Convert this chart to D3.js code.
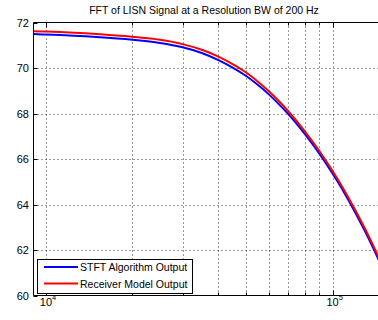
<!DOCTYPE html>
<html>
<head>
<meta charset="utf-8">
<script src="https://cdn.jsdelivr.net/npm/d3@7"></script>
<style>
  body { margin: 0; background: #fff; }
  svg { display: block; font-family: "Liberation Sans", Arial, sans-serif; }
</style>
</head>
<body>
<div id="chart"></div>
<script>
// frequency points (Hz)
const freq = [9060, 1e4, 1.5e4, 2e4, 2.5e4, 3e4, 3.5e4, 4e4, 4.5e4, 5e4, 5.5e4, 6e4, 6.5e4, 7e4, 8e4, 9e4, 1e5, 1.1e5, 1.2e5, 1.3e5, 1.4e5, 1.5e5];
// STFT algorithm output (dB)
const stft = [71.49, 71.47, 71.36, 71.24, 71.10, 70.91, 70.66, 70.35, 70.01, 69.65, 69.25, 68.84, 68.41, 67.98, 67.10, 66.23, 65.36, 64.51, 63.65, 62.81, 61.97, 61.15];
// receiver model output (dB)
const receiver = [71.62, 71.60, 71.49, 71.37, 71.24, 71.05, 70.80, 70.50, 70.16, 69.80, 69.40, 68.98, 68.55, 68.11, 67.23, 66.35, 65.48, 64.62, 63.76, 62.92, 62.08, 61.26];

const yTicks = [60, 62, 64, 66, 68, 70, 72];
const xMajor = [1e4, 1e5];
const xMinor = [2e4, 3e4, 4e4, 5e4, 6e4, 7e4, 8e4, 9e4];
const xLabels = ['4', '5'];

const title = 'FFT of LISN Signal at a Resolution BW of 200 Hz';
const seriesNames = ['STFT Algorithm Output', 'Receiver Model Output'];
const colors = ['#0000ff', '#ff0000'];

const W = 378, H = 320;
const pLeft = 33.5, pTop = 22.5, pBottom = 295.5, pRight = 383;

const svg = d3.select('#chart').append('svg')
  .attr('width', W)
  .attr('height', H);

const x = d3.scaleLog().domain([9060, 1.5e5]).range([pLeft, pRight]);
const y = d3.scaleLinear().domain([60, 72]).range([pBottom, pTop]);

svg.append('defs').append('clipPath').attr('id', 'plot-clip')
  .append('rect')
  .attr('x', pLeft).attr('y', pTop)
  .attr('width', pRight - pLeft).attr('height', pBottom - pTop);

// grid
const grid = svg.append('g').attr('stroke', '#000').attr('stroke-width', 1)
  .attr('stroke-dasharray', '1,3').attr('opacity', 0.8);

xMajor.concat(xMinor).forEach(v => {
  const px = Math.round(x(v)) + 0.5;
  grid.append('line')
    .attr('x1', px).attr('x2', px)
    .attr('y1', pTop).attr('y2', pBottom);
});

yTicks.slice(1, -1).forEach(v => {
  const py = Math.round(y(v)) + 0.5;
  grid.append('line')
    .attr('x1', pLeft).attr('x2', pRight)
    .attr('y1', py).attr('y2', py);
});

// curves
const line = d3.line()
  .x((d, i) => x(freq[i]))
  .y(d => y(d))
  .curve(d3.curveMonotoneX);

const curves = svg.append('g').attr('clip-path', 'url(#plot-clip)');
[stft, receiver].forEach((s, k) => {
  curves.append('path')
    .datum(s)
    .attr('fill', 'none')
    .attr('stroke', colors[k])
    .attr('stroke-width', 2)
    .attr('d', line);
});

// axes box
const axes = svg.append('g').attr('stroke', '#000').attr('stroke-width', 1);
axes.append('line').attr('x1', pLeft).attr('x2', pRight).attr('y1', pTop).attr('y2', pTop);
axes.append('line').attr('x1', pLeft).attr('x2', pRight).attr('y1', pBottom).attr('y2', pBottom);
axes.append('line').attr('x1', pLeft).attr('x2', pLeft).attr('y1', pTop).attr('y2', pBottom);

// ticks
xMajor.forEach(v => {
  const px = Math.round(x(v)) + 0.5;
  axes.append('line').attr('x1', px).attr('x2', px).attr('y1', pBottom).attr('y2', pBottom - 5);
  axes.append('line').attr('x1', px).attr('x2', px).attr('y1', pTop).attr('y2', pTop + 5);
});
xMinor.forEach(v => {
  const px = Math.round(x(v)) + 0.5;
  axes.append('line').attr('x1', px).attr('x2', px).attr('y1', pBottom).attr('y2', pBottom - 3);
  axes.append('line').attr('x1', px).attr('x2', px).attr('y1', pTop).attr('y2', pTop + 3);
});
yTicks.forEach(v => {
  const py = Math.round(y(v)) + 0.5;
  axes.append('line').attr('x1', pLeft).attr('x2', pLeft + 4).attr('y1', py).attr('y2', py);
});

// tick labels
svg.append('g').selectAll('text')
  .data(yTicks)
  .join('text')
  .attr('x', 29)
  .attr('y', d => y(d) + 4)
  .attr('text-anchor', 'end')
  .attr('font-size', 11)
  .attr('fill', '#000')
  .text(d => d);

xMajor.forEach((v, i) => {
  const t = svg.append('text')
    .attr('x', x(v) - 6)
    .attr('y', 306)
    .attr('font-size', 11)
    .attr('fill', '#000');
  t.append('tspan').text('10');
  t.append('tspan').attr('font-size', 7.5).attr('dy', -6).text(xLabels[i]);
});

// title
svg.append('text')
  .attr('x', 204)
  .attr('y', 14)
  .attr('text-anchor', 'middle')
  .attr('font-size', 10.5)
  .attr('fill', '#000')
  .text(title);

// legend
const lg = svg.append('g');
lg.append('rect')
  .attr('x', 37.5).attr('y', 259.5)
  .attr('width', 155).attr('height', 34)
  .attr('fill', '#fff').attr('stroke', '#000');
seriesNames.forEach((name, k) => {
  const ly = 267 + k * 16.5;
  lg.append('line')
    .attr('x1', 44).attr('x2', 78)
    .attr('y1', ly).attr('y2', ly)
    .attr('stroke', colors[k]).attr('stroke-width', 2);
  lg.append('text')
    .attr('x', 80).attr('y', ly + 4)
    .attr('font-size', 10.5)
    .attr('fill', '#000')
    .text(name);
});
</script>
</body>
</html>
